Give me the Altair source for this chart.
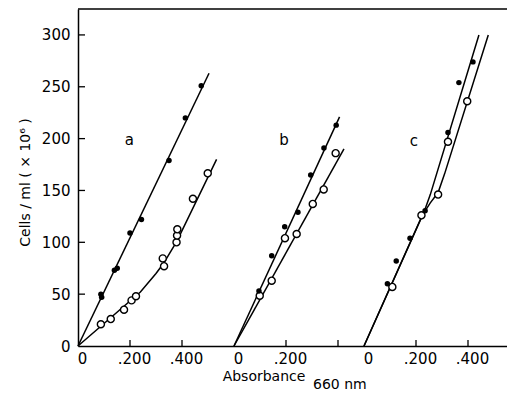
import altair as alt
import pandas as pd

# ---------------- data ----------------
panels = ["a", "b", "c"]
panel_offset = {"a": 0.0, "b": 0.6, "c": 1.1}   # position of each panel's zero on the broken x axis

# panel a
a_fill_x = [0.088, 0.091, 0.140, 0.151, 0.200, 0.244, 0.350, 0.413, 0.474]
a_fill_y = [50, 47, 73, 75, 109, 122, 179, 220, 251]
a_open_x = [0.088, 0.126, 0.177, 0.206, 0.223, 0.326, 0.331, 0.379, 0.381, 0.382, 0.442, 0.499]
a_open_y = [21, 26, 35, 44, 48, 84.5, 77, 100, 106.5, 112.5, 142, 166.5]
a_fill_line_x = [0.0, 0.504]
a_fill_line_y = [0, 263]
a_open_line_x = [0.0, 0.24, 0.30, 0.33, 0.38, 0.533]
a_open_line_y = [0, 52, 70, 80, 101, 180]

# panel b
b_fill_x = [0.096, 0.145, 0.195, 0.246, 0.295, 0.346, 0.393]
b_fill_y = [53, 87, 115, 129, 165, 191, 213]
b_open_x = [0.099, 0.145, 0.196, 0.241, 0.303, 0.345, 0.391]
b_open_y = [48.5, 63, 104, 108, 137, 151, 186]
b_fill_line_x = [0.0, 0.406]
b_fill_line_y = [0, 221]
b_open_line_x = [0.0, 0.423]
b_open_line_y = [0, 190]

# panel c
c_fill_x = [0.090, 0.124, 0.177, 0.235, 0.323, 0.365, 0.419]
c_fill_y = [60, 82, 104, 130.5, 206, 254, 274]
c_open_x = [0.109, 0.221, 0.285, 0.323, 0.397]
c_open_y = [57, 126, 146, 197, 236]
c_fill_line_x = [0.0, 0.232, 0.255, 0.442]
c_fill_line_y = [0, 130, 146, 300]
c_open_line_x = [0.0, 0.224, 0.255, 0.285, 0.31, 0.478]
c_open_line_y = [0, 126, 138, 148, 166, 300]

panel_label_x = [0.197, 0.192, 0.192]
panel_label_y = [199, 199, 198]

x_tick_pos = [0.0, 0.2, 0.4, 0.6, 0.8, 1.0, 1.1, 1.3, 1.5]
x_tick_lab = ["0", ".200", ".400", "0", ".200", "", "0", ".200", ".400"]
y_ticks = [0, 50, 100, 150, 200, 250, 300]

y_title = "Cells / ml  ( × 10⁶ )"
x_title = "Absorbance"
x_title_sub = "660 nm"

# ---------------- tables ----------------
pts = {
    "a": (a_fill_x, a_fill_y, a_open_x, a_open_y, a_fill_line_x, a_fill_line_y, a_open_line_x, a_open_line_y),
    "b": (b_fill_x, b_fill_y, b_open_x, b_open_y, b_fill_line_x, b_fill_line_y, b_open_line_x, b_open_line_y),
    "c": (c_fill_x, c_fill_y, c_open_x, c_open_y, c_fill_line_x, c_fill_line_y, c_open_line_x, c_open_line_y),
}
fill_rows, open_rows, line_rows = [], [], []
for p in panels:
    fx, fy, ox, oy, flx, fly, olx, oly = pts[p]
    off = panel_offset[p]
    fill_rows += [{"x": x + off, "y": y} for x, y in zip(fx, fy)]
    open_rows += [{"x": x + off, "y": y} for x, y in zip(ox, oy)]
    line_rows += [{"x": x + off, "y": y, "s": p + "f", "o": i} for i, (x, y) in enumerate(zip(flx, fly))]
    line_rows += [{"x": x + off, "y": y, "s": p + "o", "o": i} for i, (x, y) in enumerate(zip(olx, oly))]
fill_df = pd.DataFrame(fill_rows)
open_df = pd.DataFrame(open_rows)
line_df = pd.DataFrame(line_rows)
lab_df = pd.DataFrame({"x": [panel_label_x[i] + panel_offset[p] for i, p in enumerate(panels)],
                       "y": panel_label_y, "t": panels})
xt_df = pd.DataFrame({"x": [v for v, l in zip(x_tick_pos, x_tick_lab) if l != "0"]})
yt_df = pd.DataFrame({"y": [v for v in y_ticks if v > 0]})

W, H = 429, 337
XMAX = W / 260.0
YMAX = 325

FONT = "DejaVu Sans"
lab_js = "[" + ",".join("'%s'" % l for l in x_tick_lab) + "]"
pos_js = "[" + ",".join(repr(v) for v in x_tick_pos) + "]"

xs = alt.Scale(domain=[0, XMAX], nice=False, zero=False)
ys = alt.Scale(domain=[0, YMAX], nice=False)
x_axis = alt.Axis(values=x_tick_pos, labelExpr=f"{lab_js}[indexof({pos_js}, datum.value)]",
                  ticks=False, grid=False, labelPadding=5, labelOffset=4, labelFontSize=15,
                  labelFont=FONT, labelColor="black", domainColor="black", domainWidth=1.5,
                  labelFlush=False, labelOverlap=False, title=None)
y_axis = alt.Axis(values=y_ticks, ticks=False, grid=False, labelPadding=8, labelFontSize=15,
                  labelFont=FONT, labelColor="black", domainColor="black", domainWidth=1.5,
                  title=y_title, titleFont=FONT, titleFontSize=14, titleFontWeight="normal",
                  titleColor="black", titleAngle=270, titleX=-53, titleY=173,
                  titleBaseline="middle", titleAlign="center")

X = lambda f="x": alt.X(f + ":Q", scale=xs, axis=x_axis)
Y = lambda f="y": alt.Y(f + ":Q", scale=ys, axis=y_axis)

lines = alt.Chart(line_df).mark_line(color="black", strokeWidth=1.5).encode(
    x=X(), y=Y(), detail="s:N", order="o:Q")
opens = alt.Chart(open_df).mark_point(shape="circle", filled=True, fill="white", stroke="black",
                                      strokeWidth=1.4, size=50, opacity=1).encode(x=X(), y=Y())
fills = alt.Chart(fill_df).mark_circle(color="black", size=30, opacity=1).encode(x=X(), y=Y())
labels = alt.Chart(lab_df).mark_text(font=FONT, fontSize=15, color="black",
                                     align="center", baseline="middle").encode(x=X(), y=Y(), text="t:N")
xticks = alt.Chart(xt_df).mark_rule(color="black", strokeWidth=1.3).encode(
    x=X(), y=alt.value(H), y2=alt.value(H - 6))
yticks = alt.Chart(yt_df).mark_rule(color="black", strokeWidth=1.3).encode(
    y=Y(), x=alt.value(0), x2=alt.value(7))
top = alt.Chart(pd.DataFrame({"t": [x_title]})).mark_rule(color="black", strokeWidth=1.5).encode(
    x=alt.value(0), x2=alt.value(W), y=alt.value(0))
xt1 = alt.Chart(pd.DataFrame({"t": [x_title]})).mark_text(
    font=FONT, fontSize=14, color="black", align="center", baseline="alphabetic").encode(
    x=alt.value(186), y=alt.value(372), text="t:N")
xt2 = alt.Chart(pd.DataFrame({"t": [x_title_sub]})).mark_text(
    font=FONT, fontSize=14, color="black", align="left", baseline="alphabetic").encode(
    x=alt.value(235), y=alt.value(380), text="t:N")

chart = alt.layer(lines, opens, fills, labels, xticks, yticks, top, xt1, xt2).properties(
    width=W, height=H,
    autosize=alt.AutoSizeParams(type="none"),
    padding={"left": 70, "top": 1, "right": 0, "bottom": 47},
    background="white",
).configure_view(stroke=None)

chart.save("out.html", embed_options={"renderer": "svg", "actions": False})
